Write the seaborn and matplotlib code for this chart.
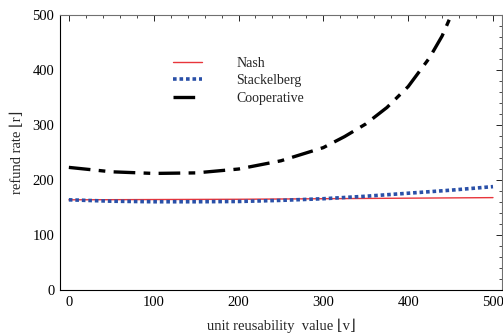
import matplotlib
matplotlib.use("Agg")
import matplotlib.pyplot as plt
import seaborn as sns
import pandas as pd
from matplotlib.ticker import MultipleLocator

sns.set_theme(style="white")
plt.rcParams['font.family'] = ['Liberation Serif', 'DejaVu Serif']

# Data
x_nash = [0, 100, 200, 300, 400, 500]
y_nash = [164, 164.5, 165, 166, 167, 168]

x_stack = [0, 50, 100, 150, 200, 250, 300, 350, 400, 450, 500]
y_stack = [164, 161.5, 160.5, 160.5, 161, 163, 166, 170.5, 176, 181.5, 188]

x_coop = [0, 50, 100, 150, 200, 250, 300, 325, 350, 375, 400, 425, 440, 455, 470]
y_coop = [223, 215, 212, 213, 220, 235, 259, 279, 302, 332, 370, 422, 462, 515, 575]

series_names = ["Nash", "Stackelberg", "Cooperative"]
xticks = [0, 100, 200, 300, 400, 500]
yticks = [0, 100, 200, 300, 400, 500]

fig = plt.figure(figsize=(5.03, 3.36), dpi=100)
ax = fig.add_axes([0.119, 0.137, 0.879, 0.818])

df_n = pd.DataFrame({"v": x_nash, "r": y_nash})
df_s = pd.DataFrame({"v": x_stack, "r": y_stack})
df_c = pd.DataFrame({"v": x_coop, "r": y_coop})

sns.lineplot(data=df_n, x="v", y="r", ax=ax, color="#e8353b", linewidth=1.0,
             label=series_names[0])
sns.lineplot(data=df_s, x="v", y="r", ax=ax, color="#2a50a8", linewidth=2.6,
             linestyle=(0, (1.0, 0.8)), label=series_names[1])
sns.lineplot(data=df_c, x="v", y="r", ax=ax, color="black", linewidth=2.4,
             linestyle=(0, (6.5, 2.5, 2, 2.5)), label=series_names[2])

ax.set_xlim(-10.6, 510.6)
ax.set_ylim(0, 500)
ax.set_xticks(xticks)
ax.set_yticks(yticks)
ax.xaxis.set_minor_locator(MultipleLocator(20))
ax.yaxis.set_minor_locator(MultipleLocator(20))
ax.tick_params(which="both", direction="in", top=True, right=True,
               labelsize=10.5, colors="black", pad=4)
ax.tick_params(which="major", length=4, width=0.6)
ax.tick_params(which="minor", length=2, width=0.5)

for side in ["left", "bottom"]:
    ax.spines[side].set_color("black")
    ax.spines[side].set_linewidth(0.8)
for side in ["top", "right"]:
    ax.spines[side].set_color("#707070")
    ax.spines[side].set_linewidth(0.8)

ax.set_xlabel("unit reusability  value ⌊v⌋", fontsize=10.5,
              family=['Liberation Serif', 'DejaVu Serif'], labelpad=7)
ax.set_ylabel("refund rate ⌊r⌋", fontsize=10.5,
              family=['Liberation Serif', 'DejaVu Serif'], labelpad=6)

leg = ax.legend(loc="upper left", bbox_to_anchor=(0.255, 0.847), frameon=False,
                fontsize=10, handlelength=2.1, handletextpad=2.5,
                labelspacing=0.3, borderaxespad=0, borderpad=0)

fig.savefig("out.png", dpi=100)
